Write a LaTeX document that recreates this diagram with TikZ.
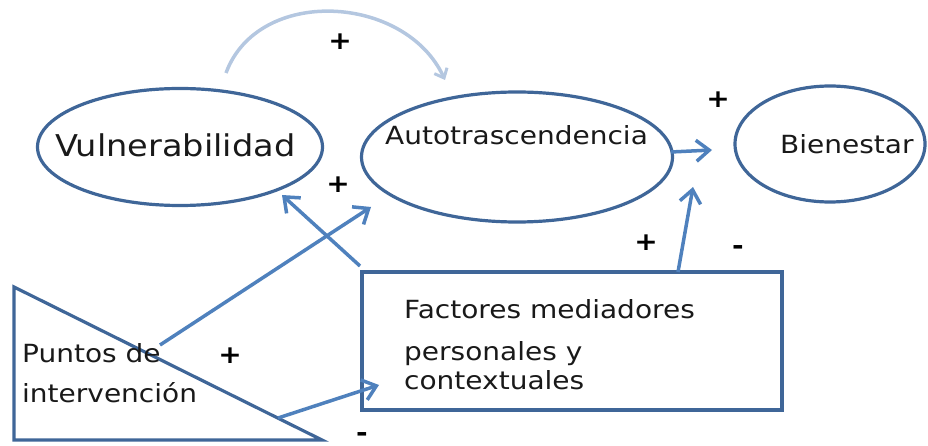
\documentclass[tikz,border=0pt]{standalone}
\usepackage{fontspec}
\setmainfont[FakeStretch=1.12]{DejaVu Sans}
\usetikzlibrary{arrows.meta,shapes.geometric}
\definecolor{shapeblue}{HTML}{3F6698}
\definecolor{arrowblue}{HTML}{4F81BD}
\definecolor{lightarc}{HTML}{B4C7E0}
\tikzset{
  ell/.style={draw=shapeblue, line width=3.2pt, ellipse, inner sep=0pt},
  arr/.style={draw=arrowblue, line width=3.5pt, -{Straight Barb[length=13pt,width=21pt,line width=3.5pt]}},
  lbl/.style={anchor=base west, inner sep=0pt, text=black!90},
  sign/.style={font=\bfseries\fontsize{25}{25}\selectfont, inner sep=0pt, text=black}
}
\begin{document}
\begin{tikzpicture}[x=1pt,y=-1pt]
\useasboundingbox (0,0) rectangle (928,446);
% shapes
\node[ell, minimum width=285pt, minimum height=117pt] (vul) at (180,147) {};
\node[ell, minimum width=311pt, minimum height=130pt] (auto) at (517,157) {};
\node[ell, minimum width=190pt, minimum height=116pt] (bien) at (830,144) {};
\node[draw=shapeblue, line width=3.2pt, minimum width=420pt, minimum height=138pt, inner sep=0pt] (fact) at (572,341) {};
\draw[shapeblue, line width=3.2pt, line join=miter] (14,287) -- (14,440) -- (322,440) -- cycle;
\coordinate (tri) at (14,440);
% texts
\node[lbl, font=\fontsize{30}{30}\selectfont] (tvul) at (55,157) {Vulnerabilidad};
\node[lbl, font=\fontsize{25}{25}\selectfont] (tauto) at (385,145) {Autotrascendencia};
\node[lbl, font=\fontsize{25}{25}\selectfont] (tbien) at (780,154) {Bienestar};
\node[lbl, font=\fontsize{25}{25}\selectfont] (tf1) at (404,318) {Factores mediadores};
\node[lbl, font=\fontsize{25}{25}\selectfont] (tf2) at (404,360) {personales y};
\node[lbl, font=\fontsize{25}{25}\selectfont] (tf3) at (404,389) {contextuales};
\node[lbl, font=\fontsize{25}{25}\selectfont] (tp1) at (22,362) {Puntos de};
\node[lbl, font=\fontsize{25}{25}\selectfont] (tp2) at (22,402) {intervención};
% coordinates
\coordinate (a1s) at (226,73);
\coordinate (a1e) at (445,80);
\coordinate (a2s) at (671,152);
\coordinate (a2e) at (712,150);
\coordinate (a3s) at (678,272);
\coordinate (a3e) at (693,187);
\coordinate (a4s) at (360,266);
\coordinate (a4e) at (282,195);
\coordinate (a5s) at (160,345);
\coordinate (a5e) at (371,207);
\coordinate (a6s) at (278,418);
\coordinate (a6e) at (379,385);
% connectors
\draw[arr, draw=lightarc, -{Straight Barb[length=8pt,width=14pt,line width=3pt]}] (a1s) .. controls (258,-14) and (405,-6) .. (a1e);
\draw[arr] (a2s) -- (a2e);
\draw[arr] (a3s) -- (a3e);
\draw[arr] (a4s) -- (a4e);
\draw[arr] (a5s) -- (a5e);
\draw[arr] (a6s) -- (a6e);
% signs
\node[sign] (p1) at (340,42) {+};
\node[sign] (p2) at (718,100) {+};
\node[sign] (p3) at (338,185) {+};
\node[sign] (p4) at (646,243) {+};
\node[sign] (p5) at (230,356) {+};
\node[sign] (m1) at (738,250) {-};
\node[sign] (m2) at (362,437) {-};
\end{tikzpicture}
\end{document}
